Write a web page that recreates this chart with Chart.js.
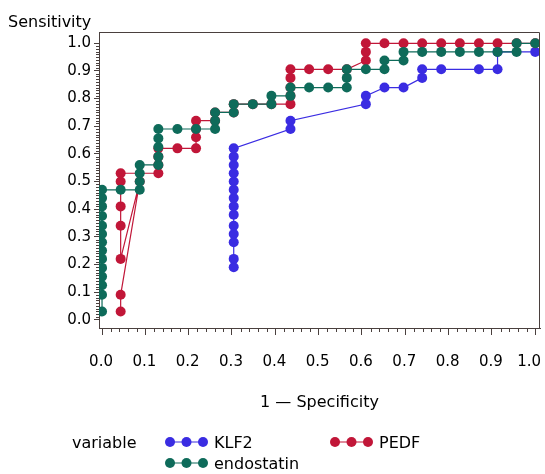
<!DOCTYPE html>
<html>
<head>
<meta charset="utf-8">
<script src="https://cdn.jsdelivr.net/npm/chart.js@4"></script>
<style>
  html, body { margin: 0; padding: 0; background: #fff; }
  #wrap { width: 545px; height: 474px; position: relative; }
</style>
</head>
<body>
<div id="wrap"><canvas id="roc" width="545" height="474"></canvas></div>
<script>
// ROC curves: 1 - specificity (x) vs sensitivity (y)
const klf2X = [0.304, 0.304, 0.304, 0.304, 0.304, 0.304, 0.304, 0.304, 0.304, 0.304, 0.304, 0.304, 0.304, 0.304,
               0.435, 0.435, 0.609, 0.609, 0.652, 0.696, 0.739, 0.739, 0.783, 0.870, 0.913, 0.913, 1.0];
const klf2Y = [0.19, 0.22, 0.28, 0.31, 0.34, 0.38, 0.41, 0.44, 0.47, 0.50, 0.53, 0.56, 0.59, 0.62,
               0.69, 0.72, 0.78, 0.81, 0.84, 0.84, 0.875, 0.906, 0.906, 0.906, 0.906, 0.969, 0.969];

const pedfX = [0.043, 0.043, 0.087, 0.043, 0.043, 0.043, 0.043, 0.043,
               0.130, 0.130, 0.130, 0.130, 0.174, 0.217, 0.217, 0.217, 0.217,
               0.261, 0.261, 0.304, 0.304, 0.348, 0.391, 0.435, 0.435, 0.435, 0.435, 0.435,
               0.478, 0.522, 0.565, 0.609, 0.609, 0.609, 0.652, 0.696, 0.739, 0.783, 0.826, 0.870, 0.913, 0.957, 1.0];
const pedfY = [0.03, 0.09, 0.50, 0.22, 0.34, 0.41, 0.50, 0.53,
               0.53, 0.56, 0.59, 0.62, 0.62, 0.62, 0.66, 0.69, 0.72,
               0.72, 0.75, 0.75, 0.78, 0.78, 0.78, 0.78, 0.81, 0.84, 0.875, 0.906,
               0.906, 0.906, 0.906, 0.938, 0.969, 1.0, 1.0, 1.0, 1.0, 1.0, 1.0, 1.0, 1.0, 1.0, 1.0];

const endoX = [0.0, 0.0, 0.0, 0.0, 0.0, 0.0, 0.0, 0.0, 0.0, 0.0, 0.0, 0.0, 0.0, 0.0,
               0.043, 0.087, 0.087, 0.087, 0.087, 0.130, 0.130, 0.130, 0.130, 0.130,
               0.174, 0.217, 0.261, 0.261, 0.261, 0.304, 0.304, 0.348, 0.391, 0.391, 0.435, 0.435,
               0.478, 0.522, 0.565, 0.565, 0.565, 0.609, 0.652, 0.652, 0.696, 0.696,
               0.739, 0.783, 0.826, 0.870, 0.913, 0.957, 0.957, 1.0];
const endoY = [0.03, 0.09, 0.125, 0.156, 0.1875, 0.22, 0.25, 0.28, 0.31, 0.34, 0.375, 0.41, 0.44, 0.47,
               0.47, 0.47, 0.50, 0.53, 0.56, 0.56, 0.59, 0.625, 0.656, 0.69,
               0.69, 0.69, 0.69, 0.72, 0.75, 0.75, 0.78, 0.78, 0.78, 0.81, 0.81, 0.84,
               0.84, 0.84, 0.84, 0.875, 0.906, 0.906, 0.906, 0.938, 0.938, 0.969,
               0.969, 0.969, 0.969, 0.969, 0.969, 0.969, 1.0, 1.0];

const xTicks = [0.0, 0.1, 0.2, 0.3, 0.4, 0.5, 0.6, 0.7, 0.8, 0.9, 1.0];
const yTicks = [0.0, 0.1, 0.2, 0.3, 0.4, 0.5, 0.6, 0.7, 0.8, 0.9, 1.0];

const BLUE = 'rgb(58, 44, 226)';
const RED = 'rgb(193, 22, 56)';
const GREEN = 'rgb(14, 107, 90)';
const AXIS = '#4a403e';
const FONT = '"DejaVu Sans", sans-serif';
const DOT = 5;

function pairs(xs, ys) {
    return xs.map(function (x, i) { return { x: x, y: ys[i] }; });
}

function series(label, xs, ys, color, order) {
    return {
        label: label,
        data: pairs(xs, ys),
        showLine: true,
        borderColor: color,
        backgroundColor: color,
        pointBackgroundColor: color,
        pointBorderWidth: 0,
        pointRadius: DOT,
        borderWidth: 1.2,
        order: order
    };
}

// frame, minor ticks, x labels, titles, legend
const decor = {
    id: 'decor',
    afterDraw: function (chart) {
        const ctx = chart.ctx;
        const a = chart.chartArea;
        const sx = chart.scales.x, sy = chart.scales.y;
        ctx.save();
        ctx.strokeStyle = AXIS;
        ctx.lineWidth = 1;
        ctx.beginPath();
        ctx.moveTo(a.left, a.top + 0.5);
        ctx.lineTo(a.right - 0.5, a.top + 0.5);
        ctx.lineTo(a.right - 0.5, a.bottom);
        ctx.stroke();

        // minor ticks
        ctx.beginPath();
        for (let k = 0; k <= 50; k++) {
            if (k % 5 === 0) continue;
            const px = Math.round(sx.getPixelForValue(k / 50)) + 0.5;
            ctx.moveTo(px, a.bottom);
            ctx.lineTo(px, a.bottom + 4);
        }
        for (let k = 0; k <= 100; k++) {
            if (k % 10 === 0) continue;
            const py = Math.round(sy.getPixelForValue(k / 100)) + 0.5;
            ctx.moveTo(a.left, py);
            ctx.lineTo(a.left - 3, py);
        }
        ctx.stroke();

        // x tick labels (kept inside the canvas at the right end)
        ctx.fillStyle = '#000';
        ctx.font = '15px ' + FONT;
        ctx.textBaseline = 'alphabetic';
        ctx.textAlign = 'center';
        xTicks.forEach(function (v) {
            const txt = v.toFixed(1);
            const w = ctx.measureText(txt).width;
            let cx = sx.getPixelForValue(v) - 1;
            if (cx + w / 2 > chart.width - 4) cx = chart.width - 4 - w / 2;
            ctx.fillText(txt, cx, 366);
        });

        ctx.font = '16px ' + FONT;
        ctx.textAlign = 'left';
        ctx.fillText('Sensitivity', 8, 27);
        ctx.textAlign = 'center';
        ctx.fillText('1 \u2014 Specificity', (a.left + a.right) / 2, 407);

        // legend
        ctx.textAlign = 'left';
        ctx.fillText('variable', 72, 448);
        const items = [
            { text: 'KLF2', color: BLUE, x: 170, y: 442 },
            { text: 'PEDF', color: RED, x: 335, y: 442 },
            { text: 'endostatin', color: GREEN, x: 170, y: 463 }
        ];
        items.forEach(function (it) {
            ctx.strokeStyle = it.color;
            ctx.fillStyle = it.color;
            ctx.lineWidth = 1.2;
            ctx.beginPath();
            ctx.moveTo(it.x, it.y);
            ctx.lineTo(it.x + 33, it.y);
            ctx.stroke();
            for (let j = 0; j < 3; j++) {
                ctx.beginPath();
                ctx.arc(it.x + j * 16.5, it.y, DOT, 0, Math.PI * 2);
                ctx.fill();
            }
            ctx.fillStyle = '#000';
            ctx.fillText(it.text, it.x + 44, it.y + 6);
        });
        ctx.restore();
    }
};

const ctx = document.getElementById('roc');
const rocChart = new Chart(ctx, {
    type: 'scatter',
    data: {
        datasets: [
            series('KLF2', klf2X, klf2Y, BLUE, 3),
            series('PEDF', pedfX, pedfY, RED, 2),
            series('endostatin', endoX, endoY, GREEN, 1)
        ]
    },
    options: {
        responsive: false,
        animation: false,
        events: [],
        layout: { padding: { top: 32, right: 3, left: 0, bottom: 0 } },
        plugins: { legend: { display: false }, tooltip: { enabled: false } },
        scales: {
            x: {
                type: 'linear',
                min: -0.007,
                max: 1.011,
                afterBuildTicks: function (scale) {
                    scale.ticks = xTicks.map(function (v) { return { value: v }; });
                },
                afterFit: function (scale) {
                    scale.height = 146;
                    scale.paddingLeft = 0;
                    scale.paddingRight = 0;
                },
                ticks: { display: false },
                grid: { drawOnChartArea: false, tickLength: 7, tickColor: AXIS, tickWidth: 1 },
                border: { display: true, color: AXIS, width: 1 }
            },
            y: {
                type: 'linear',
                min: -0.03,
                max: 1.041,
                afterBuildTicks: function (scale) {
                    scale.ticks = yTicks.map(function (v) { return { value: v }; });
                },
                afterFit: function (scale) {
                    scale.width = 99;
                    scale.paddingTop = 0;
                    scale.paddingBottom = 0;
                },
                ticks: {
                    color: '#000',
                    font: { family: FONT, size: 15 },
                    padding: 3,
                    autoSkip: false,
                    callback: function (v) { return Number(v).toFixed(1); }
                },
                grid: { drawOnChartArea: false, tickLength: 5, tickColor: AXIS, tickWidth: 1 },
                border: { display: true, color: AXIS, width: 1 }
            }
        }
    },
    plugins: [decor]
});
</script>
</body>
</html>
